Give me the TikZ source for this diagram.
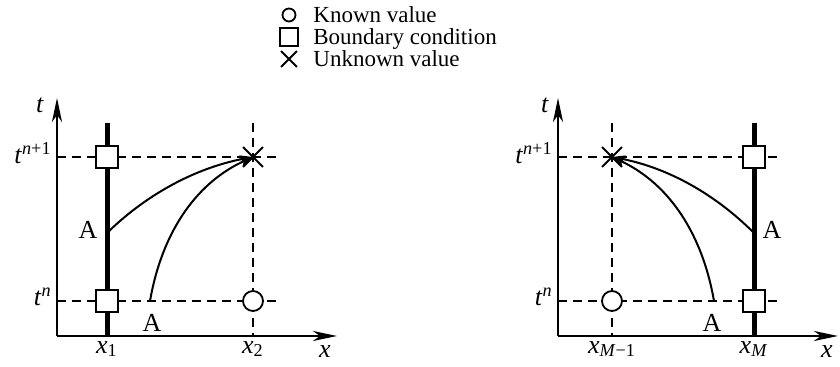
\documentclass[tikz,border=0pt]{standalone}
\usepackage{fontspec}
\setmainfont{Liberation Serif}
\usetikzlibrary{arrows.meta,shapes.misc,positioning}
\tikzset{
  axis/.style={line width=1.4pt, -{Stealth[length=12pt,width=5pt,inset=3.5pt]}},
  bnd/.style={line width=2.5pt},
  gridl/.style={dash pattern=on 4.5pt off 3pt, line width=0.6pt},
  charl/.style={line width=1pt, -{Stealth[length=6.5pt,width=4pt,inset=1.5pt]}},
  bsq/.style={rectangle, draw=black, fill=white, line width=0.9pt, minimum size=11pt, inner sep=0pt},
  kcirc/.style={circle, draw=black, fill=white, line width=0.9pt, minimum size=10pt, inner sep=0pt},
  ucross/.style={cross out, draw=black, line width=0.9pt, minimum size=9pt, inner sep=0pt},
  lbl/.style={font=\fontsize{13}{15}\selectfont, inner sep=1pt},
  leg/.style={font=\fontsize{11.5}{13}\selectfont, inner sep=0pt, text height=8pt, text depth=2pt, anchor=west}
}

\begin{document}
\begin{tikzpicture}[x=0.5pt, y=0.5pt]
  \useasboundingbox (0,0) rectangle (840,367);

  % legend
  \node[kcirc, minimum size=6.5pt] (lk) at (289,352) {};
  \node[bsq, minimum size=9pt] (lb) at (289,330) {};
  \node[ucross, minimum size=7pt] (lu) at (289,308) {};
  \node[leg] (lkt) at (313,350) {Known value};
  \node[leg] (lbt) at (313,328) {Boundary condition};
  \node[leg] (lut) at (313,306) {Unknown value};

  % left panel
  \coordinate (oL) at (57,31);
  \coordinate (tL) at (57,269);
  \coordinate (xL) at (337,31);
  \coordinate (hL1a) at (57,210);  \coordinate (hL1b) at (282,210);
  \coordinate (hL0a) at (57,66);   \coordinate (hL0b) at (282,66);
  \coordinate (vL2a) at (253,244); \coordinate (vL2b) at (253,31);
  \coordinate (bL1a) at (107,244); \coordinate (bL1b) at (107,31);
  \coordinate (aL1) at (107,134);
  \coordinate (aL2) at (150,66);
  \coordinate (uL) at (253,210);

  \draw[gridl] (hL1a) -- (hL1b);
  \draw[gridl] (hL0a) -- (hL0b);
  \draw[gridl] (vL2a) -- (vL2b);
  \draw[bnd] (bL1a) -- (bL1b);
  \draw[axis] (oL) -- (tL);
  \draw[axis] (oL) -- (xL);
  \draw[charl] (aL1) .. controls (150,176) and (200,200) .. (uL);
  \draw[charl] (aL2) .. controls (163,140) and (200,186) .. (uL);

  \node[bsq] (sqL1) at (107,210) {};
  \node[bsq] (sqL0) at (107,66) {};
  \node[kcirc] (ciL) at (253,66) {};
  \node[ucross] (crL) at (uL) {};

  \node[lbl] (tLl) at (40,262) {\textit{t}};
  \node[lbl, anchor=east] (tLn1) at (54,214) {\textit{t}\textsuperscript{\textit{n}+1}};
  \node[lbl, anchor=east] (tLn) at (54,70) {\textit{t}\textsuperscript{\textit{n}}};
  \node[lbl] (xL1) at (107,18) {\textit{x}\textsubscript{1}};
  \node[lbl] (xL2) at (253,18) {\textit{x}\textsubscript{2}};
  \node[lbl] (xLl) at (325,15) {\textit{x}};
  \node[lbl] (aL1l) at (88,137) {A};
  \node[lbl] (aL2l) at (152,44) {A};

  % right panel
  \coordinate (oR) at (558,31);
  \coordinate (tR) at (558,269);
  \coordinate (xR) at (838,31);
  \coordinate (hR1a) at (558,210); \coordinate (hR1b) at (783,210);
  \coordinate (hR0a) at (558,66);  \coordinate (hR0b) at (783,66);
  \coordinate (vR1a) at (612,244); \coordinate (vR1b) at (612,31);
  \coordinate (bRMa) at (754,244); \coordinate (bRMb) at (754,31);
  \coordinate (aR1) at (754,134);
  \coordinate (aR2) at (714,66);
  \coordinate (uR) at (612,210);

  \draw[gridl] (hR1a) -- (hR1b);
  \draw[gridl] (hR0a) -- (hR0b);
  \draw[gridl] (vR1a) -- (vR1b);
  \draw[bnd] (bRMa) -- (bRMb);
  \draw[axis] (oR) -- (tR);
  \draw[axis] (oR) -- (xR);
  \draw[charl] (aR1) .. controls (712,176) and (664,200) .. (uR);
  \draw[charl] (aR2) .. controls (701,140) and (664,186) .. (uR);

  \node[bsq] (sqR1) at (754,210) {};
  \node[bsq] (sqR0) at (754,66) {};
  \node[kcirc] (ciR) at (612,66) {};
  \node[ucross] (crR) at (uR) {};

  \node[lbl] (tRl) at (545,262) {\textit{t}};
  \node[lbl, anchor=east] (tRn1) at (555,214) {\textit{t}\textsuperscript{\textit{n}+1}};
  \node[lbl, anchor=east] (tRn) at (555,70) {\textit{t}\textsuperscript{\textit{n}}};
  \node[lbl] (xRM1) at (612,18) {\textit{x}\textsubscript{\textit{M}−1}};
  \node[lbl] (xRM) at (754,18) {\textit{x}\textsubscript{\textit{M}}};
  \node[lbl] (xRl) at (827,15) {\textit{x}};
  \node[lbl] (aR1l) at (772,137) {A};
  \node[lbl] (aR2l) at (712,44) {A};
\end{tikzpicture}
\end{document}
